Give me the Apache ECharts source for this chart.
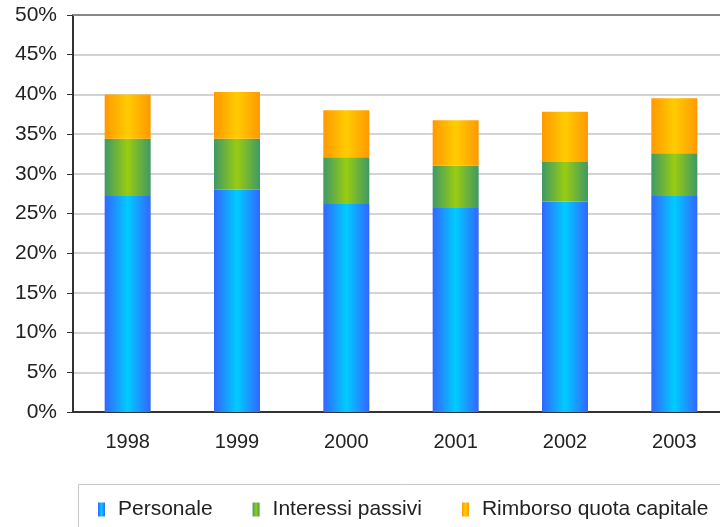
<!DOCTYPE html>
<html>
<head>
<meta charset="utf-8">
<script src="https://cdn.jsdelivr.net/npm/echarts@6/dist/echarts.min.js"></script>
<style>
  html, body { margin: 0; padding: 0; background: #fff; overflow: hidden; }
  #chart { width: 729px; height: 527px; }
</style>
</head>
<body>
<div id="chart"></div>
<script>
var years = ["1998", "1999", "2000", "2001", "2002", "2003"];
var personale = [27.2, 28.0, 26.2, 25.7, 26.5, 27.2];
var interessi = [7.2, 6.4, 5.9, 5.3, 5.0, 5.4];
var rimborso = [5.6, 5.9, 5.9, 5.75, 6.3, 6.9];

function grad(edge, mid) {
  return new echarts.graphic.LinearGradient(0, 0, 1, 0, [
    { offset: 0, color: edge },
    { offset: 0.5, color: mid },
    { offset: 1, color: edge }
  ]);
}

var chart = echarts.init(document.getElementById("chart"));
var font = "Liberation Sans, Arial, sans-serif";

chart.setOption({
  animation: false,
  grid: { left: 73, top: 15, right: 0, bottom: 115 },
  graphic: [
    {
      type: "rect",
      shape: { x: 78.5, y: 484.5, width: 700, height: 80 },
      style: { fill: "none", stroke: "#c8c8c8", lineWidth: 1 }
    }
  ],
  legend: {
    left: 93,
    top: 494,
    width: 700,
    icon: "rect",
    itemWidth: 7,
    itemHeight: 14,
    itemGap: 40,
    textStyle: { fontFamily: font, fontSize: 21, color: "#222", padding: [0, 0, 0, 8] },
    data: ["Personale", "Interessi passivi", "Rimborso quota capitale"]
  },
  xAxis: [
    {
      type: "category",
      data: years,
      axisLine: { lineStyle: { color: "#333", width: 2 } },
      axisTick: { length: 7, lineStyle: { color: "#333" } },
      axisLabel: { fontFamily: font, fontSize: 20, color: "#222", margin: 20 }
    },
    {
      type: "category",
      position: "top",
      data: years,
      axisLine: { lineStyle: { color: "#888", width: 2 } },
      axisTick: { show: false },
      axisLabel: { show: false }
    }
  ],
  yAxis: {
    type: "value",
    min: 0,
    max: 50,
    interval: 5,
    axisLine: { show: true, lineStyle: { color: "#333", width: 2 } },
    axisTick: { show: true, length: 6, lineStyle: { color: "#333" } },
    axisLabel: { fontFamily: font, fontSize: 21, color: "#222", margin: 16, formatter: "{value}%" },
    splitLine: { lineStyle: { color: "#c4c4c4", width: 1.5 } }
  },
  series: [
    {
      name: "Personale",
      type: "bar",
      stack: "tot",
      barWidth: 46,
      itemStyle: { color: grad("#3366ff", "#00ccff") },
      data: personale
    },
    {
      name: "Interessi passivi",
      type: "bar",
      stack: "tot",
      barWidth: 46,
      itemStyle: { color: grad("#3f9966", "#99cc11") },
      data: interessi
    },
    {
      name: "Rimborso quota capitale",
      type: "bar",
      stack: "tot",
      barWidth: 46,
      itemStyle: { color: grad("#ff9900", "#ffcc00") },
      data: rimborso
    }
  ]
});
</script>
</body>
</html>
